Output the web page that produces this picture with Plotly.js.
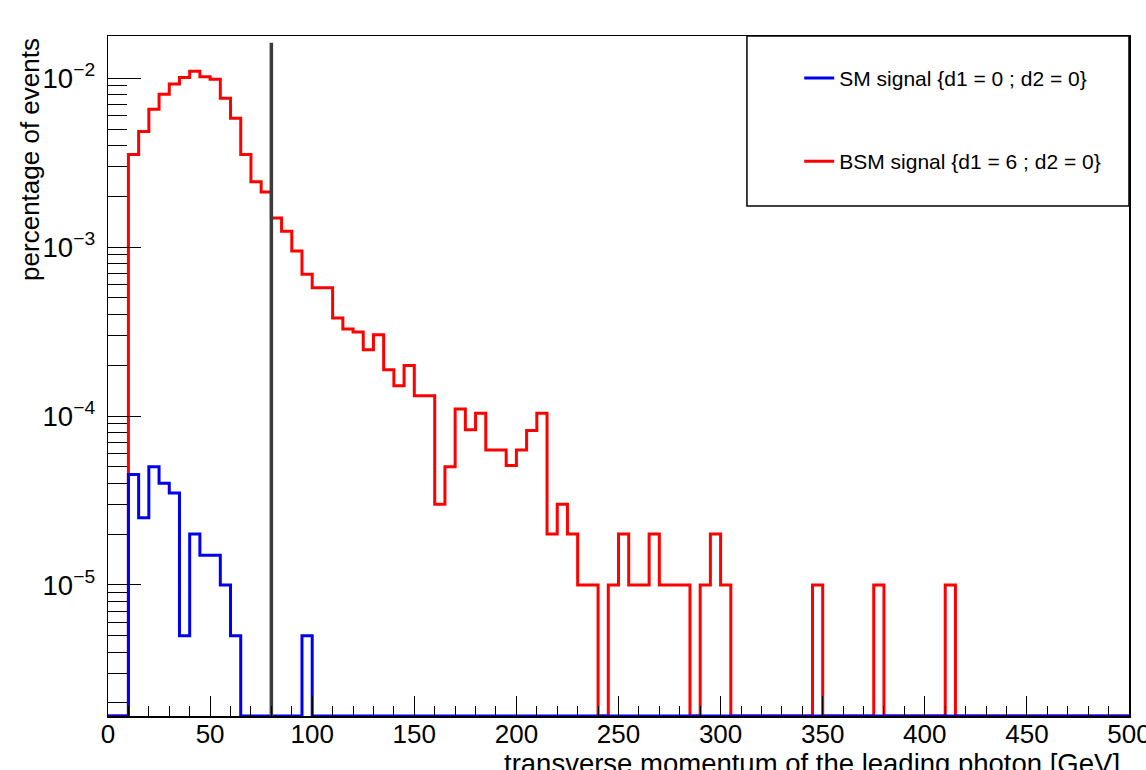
<!DOCTYPE html>
<html>
<head>
<meta charset="utf-8">
<script src="https://cdn.plot.ly/plotly-3.0.1.min.js"></script>
<style>
  html, body { margin: 0; padding: 0; background: #ffffff; }
  #chart { width: 1146px; height: 770px; }
</style>
</head>
<body>
<div id="chart"></div>
<script>
// Histogram binning: 100 bins of 5 GeV from 0 to 500
const binWidth = 5;
const nBins = 100;

// SM signal {d1 = 0 ; d2 = 0} (blue), one value per bin
const smValues = [
  0, 0, 4.5e-5, 2.5e-5, 5.0e-5, 4.0e-5, 3.5e-5, 5e-6, 2.0e-5, 1.5e-5,
  1.5e-5, 1.0e-5, 5e-6, 0, 0, 0, 0, 0, 0, 5e-6,
  0, 0, 0, 0, 0, 0, 0, 0, 0, 0,
  0, 0, 0, 0, 0, 0, 0, 0, 0, 0,
  0, 0, 0, 0, 0, 0, 0, 0, 0, 0,
  0, 0, 0, 0, 0, 0, 0, 0, 0, 0,
  0, 0, 0, 0, 0, 0, 0, 0, 0, 0,
  0, 0, 0, 0, 0, 0, 0, 0, 0, 0,
  0, 0, 0, 0, 0, 0, 0, 0, 0, 0,
  0, 0, 0, 0, 0, 0, 0, 0, 0, 0
];

// BSM signal {d1 = 6 ; d2 = 0} (red), one value per bin
const bsmValues = [
  0, 0, 3.54e-3, 4.83e-3, 6.55e-3, 8.04e-3, 9.25e-3, 1.01e-2, 1.10e-2, 1.02e-2,
  9.86e-3, 7.6e-3, 5.79e-3, 3.54e-3, 2.44e-3, 2.12e-3, 1.49e-3, 1.24e-3, 9.48e-4, 6.9e-4,
  5.75e-4, 5.75e-4, 3.8e-4, 3.28e-4, 3.14e-4, 2.47e-4, 3.03e-4, 1.88e-4, 1.51e-4, 1.99e-4,
  1.32e-4, 1.32e-4, 3.0e-5, 5.0e-5, 1.1e-4, 8.3e-5, 1.04e-4, 6.3e-5, 6.3e-5, 5.1e-5,
  6.3e-5, 8.2e-5, 1.04e-4, 2.0e-5, 3.0e-5, 2.0e-5, 1.0e-5, 1.0e-5, 0, 1.0e-5,
  2.0e-5, 1.0e-5, 1.0e-5, 2.0e-5, 1.0e-5, 1.0e-5, 1.0e-5, 0, 1.0e-5, 2.0e-5,
  1.0e-5, 0, 0, 0, 0, 0, 0, 0, 0, 1.0e-5,
  0, 0, 0, 0, 0, 1.0e-5, 0, 0, 0, 0,
  0, 0, 1.0e-5, 0, 0, 0, 0, 0, 0, 0,
  0, 0, 0, 0, 0, 0, 0, 0, 0, 0
];

// Vertical cut line at pT = 80 GeV
const cutX = 80;
const cutTop = 0.0162;

// Axes
const xRange = [0, 500];
const yLogRange = [-5.776, -1.750];
const yFloor = Math.pow(10, yLogRange[0]);

const seriesNames = ["SM signal {d1 = 0 ; d2 = 0}", "BSM signal {d1 = 6 ; d2 = 0}"];

function stepXY(values) {
  const xs = [], ys = [];
  for (let i = 0; i <= nBins; i++) {
    xs.push(i * binWidth);
    const v = values[Math.min(i, nBins - 1)];
    ys.push(v > 0 ? v : yFloor);
  }
  return { xs, ys };
}

const red = stepXY(bsmValues);
const blue = stepXY(smValues);

const traces = [
  {
    x: red.xs, y: red.ys, type: "scatter", mode: "lines",
    line: { shape: "hv", color: "#ff0000", width: 3 },
    name: seriesNames[1], legendrank: 2, legendgroup: "b",
    hoverinfo: "skip"
  },
  {
    x: blue.xs, y: blue.ys, type: "scatter", mode: "lines",
    line: { shape: "hv", color: "#0000ee", width: 3 },
    name: seriesNames[0], legendrank: 1, legendgroup: "a",
    hoverinfo: "skip"
  },
  {
    x: [cutX, cutX], y: [yFloor, cutTop], type: "scatter", mode: "lines",
    line: { color: "#3c3c3c", width: 3.5 },
    showlegend: false, hoverinfo: "skip"
  }
];

const fontFam = "Liberation Sans, Arial, Helvetica, sans-serif";

const layout = {
  width: 1146, height: 770,
  margin: { l: 108, r: 17, t: 36, b: 54 },
  paper_bgcolor: "#ffffff", plot_bgcolor: "#ffffff",
  font: { family: fontFam, color: "#000000" },
  showlegend: true,
  legend: {
    x: 0.677, y: 0.968, xanchor: "left", yanchor: "top",
    bgcolor: "rgba(0,0,0,0)", borderwidth: 0,
    font: { size: 21, family: fontFam, color: "#000000" },
    tracegroupgap: 53, traceorder: "grouped"
  },
  xaxis: {
    type: "linear", range: xRange, autorange: false,
    showline: true, linecolor: "#000000", linewidth: 1.5, mirror: true,
    ticks: "inside", ticklen: 20, tickwidth: 1, tickcolor: "#000000",
    tick0: 0, dtick: 50, showgrid: false, zeroline: false,
    minor: { ticks: "inside", ticklen: 10, tickwidth: 1, tickcolor: "#000000", dtick: 10, showgrid: false },
    tickfont: { size: 26, family: fontFam, color: "#000000" },
    ticklabelstandoff: -6, ticklabeloverflow: "allow"
  },
  yaxis: {
    type: "log", range: yLogRange, autorange: false,
    showline: true, linecolor: "#000000", linewidth: 1.5, mirror: true,
    ticks: "inside", ticklen: 33, tickwidth: 1, tickcolor: "#000000",
    dtick: 1, exponentformat: "power", showgrid: false, zeroline: false,
    minor: { ticks: "inside", ticklen: 19, tickwidth: 1, tickcolor: "#000000", dtick: "D1", showgrid: false },
    tickfont: { size: 22, family: fontFam, color: "#000000" },
    ticklabelstandoff: 7
  },
  shapes: [
    {
      type: "rect", xref: "paper", yref: "paper",
      x0: 0.6258, x1: 1.0, y0: 0.75, y1: 1.0,
      line: { color: "#000000", width: 1.5 }, fillcolor: "rgba(0,0,0,0)"
    }
  ],
  annotations: [
    {
      text: "transverse momentum of the leading photon [GeV]",
      xref: "paper", yref: "paper", x: 0.993, y: -0.044,
      xanchor: "right", yanchor: "top", showarrow: false,
      font: { size: 27.5, family: fontFam, color: "#000000" }
    },
    {
      text: "percentage of events",
      xref: "paper", yref: "paper", x: -0.077, y: 1.0,
      xanchor: "center", yanchor: "top", textangle: -90, showarrow: false,
      font: { size: 26, family: fontFam, color: "#000000" }
    }
  ]
};

Plotly.newPlot("chart", traces, layout, { displayModeBar: false, staticPlot: true });
</script>
</body>
</html>
